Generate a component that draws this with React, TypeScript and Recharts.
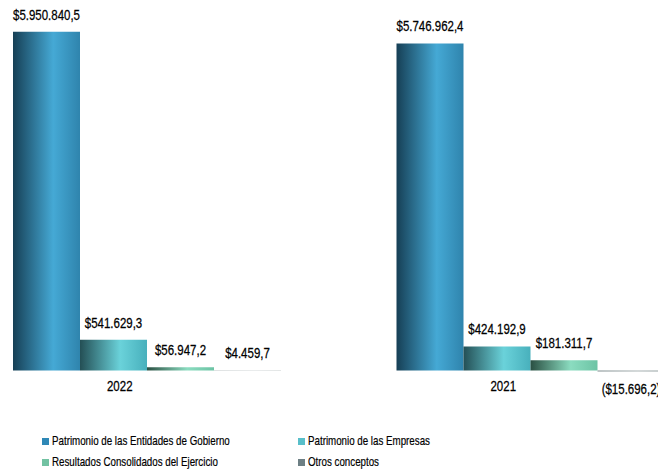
import { BarChart, Bar, XAxis, YAxis, LabelList, Legend } from "recharts";

const years = ["2022", "2021"];
const gobierno = [5950840.5, 5746962.4];
const empresas = [541629.3, 424192.9];
const resultados = [56947.2, 181311.7];
const otros = [4459.7, -15696.2];

const series = [
  { key: "gobierno", name: "Patrimonio de las Entidades de Gobierno", color: "#2f88b6", grad: ["#163f55", "#45a9d5", "#2f84ad"] },
  { key: "empresas", name: "Patrimonio de las Empresas", color: "#58bfca", grad: ["#244f55", "#6ad2da", "#48b0bc"] },
  { key: "resultados", name: "Resultados Consolidados del Ejercicio", color: "#72c2a2", grad: ["#2a4f42", "#8bdcc0", "#6cc3a4"] },
  { key: "otros", name: "Otros conceptos", color: "#6d7f84", grad: ["#7d8a8c", "#a9b3b4", "#8e9a9b"] },
];

const data = years.map((year, i) => ({
  year,
  gobierno: gobierno[i],
  empresas: empresas[i],
  resultados: resultados[i],
  otros: otros[i],
}));

// no narrow font installed, so squeeze Liberation Sans horizontally
const FONT = "'Liberation Sans', Arial, sans-serif";
const SQUEEZE = 0.82;

// 5950840.5 -> $5.950.840,5 ; negatives in parentheses
function formatMoney(v: number) {
  const abs = Math.abs(v);
  const [intPart, dec] = abs.toFixed(1).split(".");
  const withDots = intPart.replace(/\B(?=(\d{3})+(?!\d))/g, ".");
  const s = `$${withDots},${dec}`;
  return v < 0 ? `(${s})` : s;
}

const NarrowText = ({ x, y, children }: any) => (
  <text
    transform={`translate(${x},${y}) scale(${SQUEEZE},1)`}
    textAnchor="middle"
    fontFamily={FONT}
    fontSize={14}
    fill="#000"
    stroke="#000"
    strokeWidth={0.25}
  >
    {children}
  </text>
);

const renderValue = (props: any) => {
  const { x, y, width, height, value } = props;
  const cx = Number(x) + Number(width) / 2;
  const neg = Number(value) < 0;
  const top = Math.min(Number(y), Number(y) + Number(height));
  const bottom = Math.max(Number(y), Number(y) + Number(height));
  return (
    <NarrowText x={cx} y={neg ? bottom + 22 : top - 12}>
      {formatMoney(Number(value))}
    </NarrowText>
  );
};

const YearTick = (props: any) => {
  const { x, y, payload } = props;
  return (
    <NarrowText x={x - 27} y={y + 9}>
      {payload.value}
    </NarrowText>
  );
};

const LegendBox = () => {
  const cols = [34, 290];
  return (
    <div style={{ position: "relative", width: 666, height: 44, fontFamily: FONT, fontSize: 13, color: "#000" }}>
      {series.map((s, i) => (
        <div
          key={s.key}
          style={{
            position: "absolute",
            left: cols[i % 2],
            top: Math.floor(i / 2) * 21,
            display: "flex",
            alignItems: "center",
            whiteSpace: "nowrap",
            lineHeight: "18px",
          }}
        >
          <span style={{ display: "inline-block", width: 7, height: 7, background: s.color, marginRight: 3 }} />
          <span
            style={{
              display: "inline-block",
              transform: "scaleX(0.75)",
              transformOrigin: "left center",
              WebkitTextStroke: "0.2px #000",
            }}
          >
            {s.name}
          </span>
        </div>
      ))}
    </div>
  );
};

export default function App() {
  return (
    <div>
      <style>{`.recharts-surface { overflow: visible; }`}</style>
      <BarChart
        width={666}
        height={467}
        data={data}
        margin={{ top: 21, right: -48, bottom: 63, left: -53 }}
        barGap={0}
        barSize={67}
      >
        <defs>
          {series.map((s) => (
            <linearGradient key={s.key} id={`grad-${s.key}`} x1="0" y1="0" x2="1" y2="0">
              <stop offset="0%" stopColor={s.grad[0]} />
              <stop offset="60%" stopColor={s.grad[1]} />
              <stop offset="100%" stopColor={s.grad[2]} />
            </linearGradient>
          ))}
        </defs>
        <XAxis
          dataKey="year"
          axisLine={false}
          tickLine={false}
          tickSize={0}
          tickMargin={0}
          height={30}
          tick={<YearTick />}
          interval={0}
        />
        <YAxis hide domain={[-200000, 6000000]} allowDataOverflow />
        <Legend
          layout="horizontal"
          verticalAlign="middle"
          align="center"
          wrapperStyle={{ top: 424, left: 0, width: 666 }}
          content={<LegendBox />}
        />
        {series.map((s) => (
          <Bar
            key={s.key}
            dataKey={s.key}
            name={s.name}
            fill={`url(#grad-${s.key})`}
            isAnimationActive={false}
          >
            <LabelList dataKey={s.key} content={renderValue} />
          </Bar>
        ))}
      </BarChart>
    </div>
  );
}
